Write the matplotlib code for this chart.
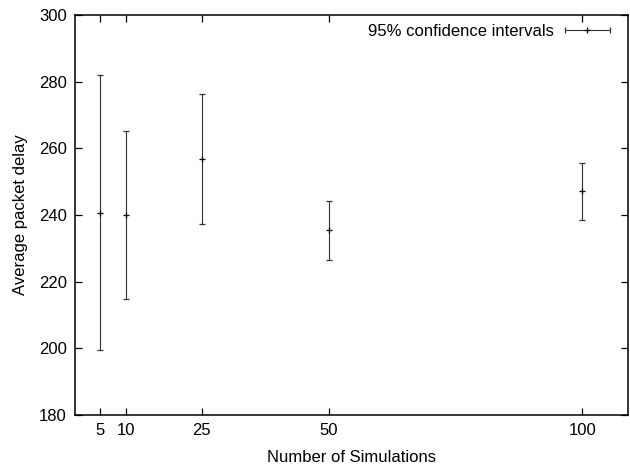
import numpy as np
import matplotlib.pyplot as plt
from matplotlib.container import ErrorbarContainer
from matplotlib.legend_handler import HandlerErrorbar

plt.rcParams['font.family'] = ['Liberation Sans', 'DejaVu Sans']

# valeurs
simulations = [5, 10, 25, 50, 100]
moyennes = [240.7, 240.0, 256.9, 235.4, 247.1]
bas = [199.5, 214.7, 237.4, 226.6, 238.6]
haut = [282.0, 265.3, 276.4, 244.2, 255.6]

err_bas = [m - b for m, b in zip(moyennes, bas)]
err_haut = [h - m for h, m in zip(haut, moyennes)]

fig = plt.figure(figsize=(6.3, 4.69), dpi=100)
ax = fig.add_axes([0.119, 0.115, 0.878, 0.853])

style = dict(fmt='+', color='black', ecolor='#333333', elinewidth=0.8,
             capsize=2.5, capthick=0.8, markersize=5, markeredgewidth=0.9)

ax.errorbar(simulations, moyennes, yerr=[err_bas, err_haut], **style)

# échantillon de légende à la gnuplot (barre horizontale), point invisible
proxy = ax.errorbar([np.nan], [np.nan], xerr=[1], **style)
ax.legend([proxy], ['95% confidence intervals'], loc='upper right', frameon=False,
          markerfirst=False, handlelength=2.9, fontsize=12,
          bbox_to_anchor=(1.0, 1.02), borderaxespad=0.6, handletextpad=0.55,
          handler_map={ErrorbarContainer: HandlerErrorbar(xerr_size=1.35)})

ax.set_xlim(0, 109)
ax.set_ylim(180, 300)
ax.set_xticks(simulations)
ax.set_yticks(range(180, 301, 20))
ax.tick_params(direction='in', top=True, right=True, length=5, width=0.9,
               labelsize=12, pad=6)
for s in ax.spines.values():
    s.set_linewidth(1.1)

ax.set_xlabel('Number of Simulations', fontsize=12, labelpad=8)
ax.set_ylabel('Average packet delay', fontsize=12, labelpad=8)

plt.savefig('out.png', dpi=100)
